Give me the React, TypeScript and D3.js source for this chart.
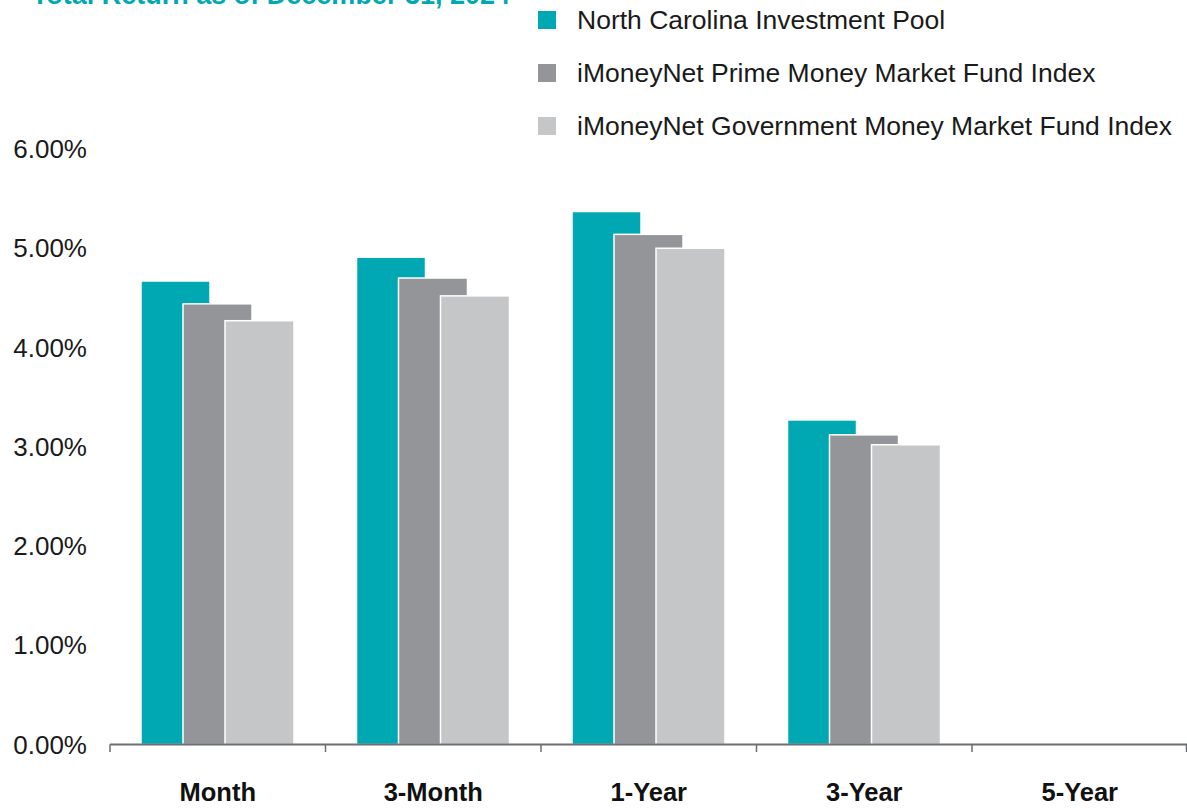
import React from "react";
import * as d3 from "d3";

const categories = ["Month", "3-Month", "1-Year", "3-Year", "5-Year"];
const seriesNames = [
  "North Carolina Investment Pool",
  "iMoneyNet Prime Money Market Fund Index",
  "iMoneyNet Government Money Market Fund Index",
];
const ncipValues: (number | null)[] = [4.67, 4.91, 5.37, 3.27, null];
const primeValues: (number | null)[] = [4.44, 4.70, 5.14, 3.12, null];
const govtValues: (number | null)[] = [4.27, 4.52, 5.00, 3.02, null];
const yTicks = [0, 1, 2, 3, 4, 5, 6];
const colors = ["#00A8B3", "#939598", "#C5C6C8"];
const title = "Total Return as of December 31, 2024";

const W = 1187;
const H = 808;

export default function App() {
  const allSeries = [ncipValues, primeValues, govtValues];
  const x = d3.scaleBand<string>().domain(categories).range([110, 1187.5]).padding(0);
  const inner = d3.scalePoint<string>().domain(seriesNames).range([31, 115]);
  const barW = 69;
  const y = d3.scaleLinear().domain([0, 6]).range([744.5, 149]);
  const font = "Arial, 'Liberation Sans', Helvetica, sans-serif";

  return (
    <div style={{ position: "fixed", left: 0, top: 0, width: W, height: H, background: "#fff" }}>
      <svg width={W} height={H} style={{ display: "block" }} fontFamily={font}>
        <text x={510} y={4} textAnchor="end" fontSize={27} fontWeight="bold" fill="#00A8B3">
          {title}
        </text>

        {/* legend */}
        {seriesNames.map((s, i) => (
          <g key={s} transform={`translate(0, ${20 + i * 53})`}>
            <rect x={538} y={-9} width={18} height={18} fill={colors[i]} />
            <text x={577} y={0} dy="0.35em" fontSize={26.5} fill="#1a1a1a">
              {s}
            </text>
          </g>
        ))}

        {/* y labels */}
        {yTicks.map((t) => (
          <text key={t} x={87} y={y(t)} dy="0.35em" textAnchor="end" fontSize={26} fill="#1a1a1a">
            {d3.format(".2f")(t) + "%"}
          </text>
        ))}

        {/* bars */}
        {allSeries.map((vals, si) => (
          <g key={si}>
            {categories.map((c, ci) => {
              const v = vals[ci];
              if (v == null) return null;
              const x0 = (x(c) ?? 0) + (inner(seriesNames[si]) ?? 0);
              return (
                <rect
                  key={c}
                  x={x0}
                  y={y(v)}
                  width={barW}
                  height={y(0) - y(v)}
                  fill={colors[si]}
                  stroke="#fff"
                  strokeWidth={1.5}
                />
              );
            })}
          </g>
        ))}

        {/* x axis */}
        <line x1={110} x2={1187} y1={744.5} y2={744.5} stroke="#6d6e71" strokeWidth={2} />
        {categories.map((c) => (
          <line key={c} x1={x(c)} x2={x(c)} y1={744.5} y2={752} stroke="#6d6e71" strokeWidth={1.5} />
        ))}
        <line x1={1186.5} x2={1186.5} y1={744.5} y2={752} stroke="#6d6e71" strokeWidth={1.5} />
        {categories.map((c) => (
          <text
            key={c}
            x={(x(c) ?? 0) + x.bandwidth() / 2}
            y={801}
            textAnchor="middle"
            fontSize={25.5}
            fontWeight="bold"
            fill="#111"
          >
            {c}
          </text>
        ))}
      </svg>
    </div>
  );
}
